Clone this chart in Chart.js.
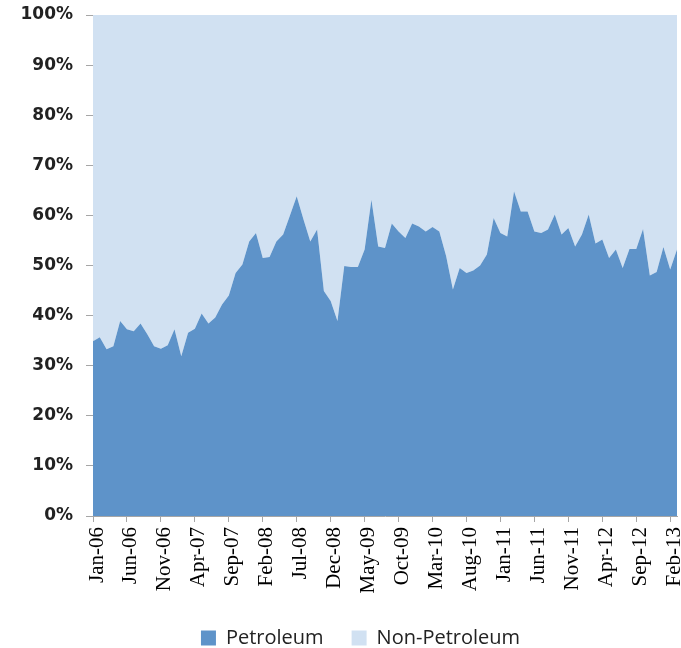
<!DOCTYPE html>
<html>
<head>
<meta charset="utf-8">
<script src="https://cdn.jsdelivr.net/npm/chart.js@4"></script>
<style>
  html, body { margin: 0; padding: 0; background: #fff; }
  #wrap { width: 681px; height: 648px; }
</style>
</head>
<body>
<div id="wrap"><canvas id="chart"></canvas></div>
<script>
// monthly categories, Jan-06 .. Mar-13
const months = ['Jan', 'Feb', 'Mar', 'Apr', 'May', 'Jun', 'Jul', 'Aug', 'Sep', 'Oct', 'Nov', 'Dec'];
const years = ['06', '07', '08', '09', '10', '11', '12', '13'];

// share of petroleum (%)
const petroleum = [
    34.9, 35.7, 33.3, 33.9, 38.9, 37.3, 36.9, 38.4, 36.3, 33.9, 33.4, 34.1,
    37.3, 31.9, 36.6, 37.4, 40.4, 38.4, 39.6, 42.2, 44.0, 48.5, 50.2, 54.8,
    56.5, 51.5, 51.7, 54.8, 56.2, 60.0, 63.8, 59.2, 54.8, 57.2, 44.9, 42.9,
    38.9, 49.9, 49.7, 49.7, 53.2, 63.1, 53.8, 53.5, 58.4, 56.8, 55.5, 58.4,
    57.8, 56.8, 57.7, 56.8, 51.9, 45.2, 49.5, 48.5, 49.0, 50.0, 52.2, 59.5,
    56.5, 55.8, 64.8, 60.8, 60.8, 56.8, 56.5, 57.2, 60.2, 56.2, 57.5, 53.8,
    56.2, 60.2, 54.4, 55.2, 51.5, 53.2, 49.5, 53.3, 53.3, 57.3, 48.0, 48.7,
    53.7, 49.2, 53.2
];

// share of non-petroleum (%)
const nonPetroleum = [
    65.1, 64.3, 66.7, 66.1, 61.1, 62.7, 63.1, 61.6, 63.7, 66.1, 66.6, 65.9,
    62.7, 68.1, 63.4, 62.6, 59.6, 61.6, 60.4, 57.8, 56.0, 51.5, 49.8, 45.2,
    43.5, 48.5, 48.3, 45.2, 43.8, 40.0, 36.2, 40.8, 45.2, 42.8, 55.1, 57.1,
    61.1, 50.1, 50.3, 50.3, 46.8, 36.9, 46.2, 46.5, 41.6, 43.2, 44.5, 41.6,
    42.2, 43.2, 42.3, 43.2, 48.1, 54.8, 50.5, 51.5, 51.0, 50.0, 47.8, 40.5,
    43.5, 44.2, 35.2, 39.2, 39.2, 43.2, 43.5, 42.8, 39.8, 43.8, 42.5, 46.2,
    43.8, 39.8, 45.6, 44.8, 48.5, 46.8, 50.5, 46.7, 46.7, 42.7, 52.0, 51.3,
    46.3, 50.8, 46.8
];

const labels = [];
years.forEach(function (yy) {
    months.forEach(function (m) {
        if (labels.length < petroleum.length) {
            labels.push(m + '-' + yy);
        }
    });
});

const axisColor = '#a6a6a6';
const labelEvery = 5;

// the original legend sits a little right of centre
const legendShift = {
    id: 'legendShift',
    afterLayout: function (chart) {
        if (chart.legend) {
            chart.legend.left += 22;
            chart.legend.right += 22;
        }
    }
};

new Chart(document.getElementById('chart').getContext('2d'), {
    type: 'line',
    data: {
        labels: labels,
        datasets: [
            {
                label: 'Petroleum',
                data: petroleum,
                backgroundColor: '#5e93c9',
                borderWidth: 0,
                pointRadius: 0,
                fill: 'origin'
            },
            {
                label: 'Non-Petroleum',
                data: nonPetroleum,
                backgroundColor: '#d1e1f2',
                borderWidth: 0,
                pointRadius: 0,
                fill: '-1'
            }
        ]
    },
    plugins: [legendShift],
    options: {
        responsive: true,
        maintainAspectRatio: false,
        animation: false,
        layout: {
            // negative bottom so the legend sits low like the original
            padding: { left: 0, right: 4, top: 15, bottom: -10 }
        },
        plugins: {
            legend: {
                position: 'bottom',
                labels: {
                    color: '#222',
                    font: { family: 'Open Sans', size: 20 },
                    boxWidth: 15,
                    boxHeight: 15,
                    padding: 28
                }
            },
            tooltip: { enabled: false }
        },
        scales: {
            x: {
                stacked: true,
                offset: false,
                border: { color: axisColor, width: 1 },
                grid: {
                    drawOnChartArea: false,
                    drawTicks: true,
                    tickLength: 6,
                    color: axisColor
                },
                afterBuildTicks: function (scale) {
                    scale.ticks = scale.ticks.filter(function (t) {
                        return t.value % labelEvery === 0 && t.value < labels.length - 1;
                    });
                },
                afterFit: function (scale) {
                    scale.height = 84;
                    scale.paddingLeft = 0;
                    scale.paddingRight = 0;
                },
                ticks: {
                    autoSkip: false,
                    maxRotation: 90,
                    minRotation: 90,
                    padding: 5,
                    labelOffset: 4,
                    color: '#000',
                    font: { family: 'Liberation Serif', size: 21 }
                }
            },
            y: {
                stacked: true,
                min: 0,
                max: 100,
                border: { color: axisColor, width: 1 },
                grid: {
                    drawOnChartArea: false,
                    drawTicks: true,
                    tickLength: 7,
                    color: axisColor
                },
                afterFit: function (scale) {
                    scale.width = 93;
                    scale.paddingTop = 0;
                    scale.paddingBottom = 0;
                },
                ticks: {
                    stepSize: 10,
                    padding: 13,
                    color: '#222',
                    font: { family: 'DejaVu Sans', size: 17, weight: 'bold' },
                    callback: function (v) {
                        return v + '%';
                    }
                }
            }
        }
    }
});
</script>
</body>
</html>
